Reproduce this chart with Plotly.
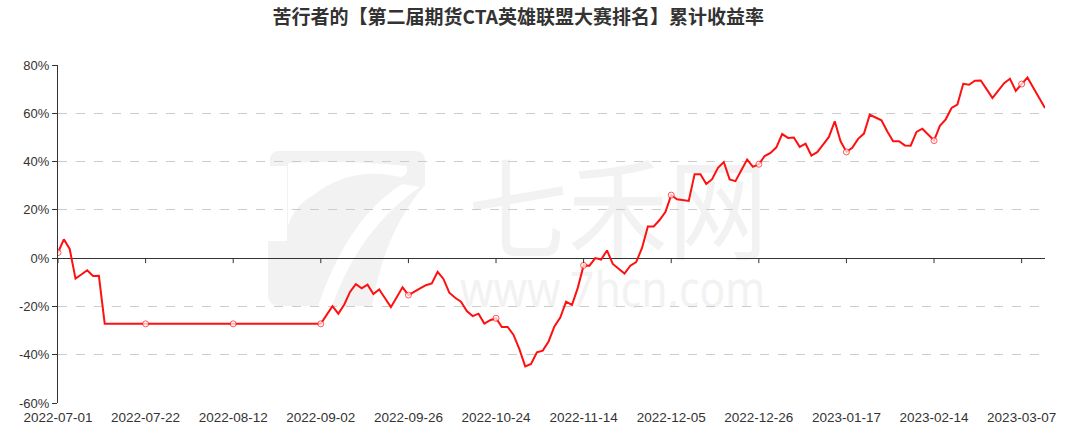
import base64
import pandas as pd
import plotly.graph_objects as go

# ---- data ----
holidays = ["2022-09-12", "2022-10-03", "2022-10-04", "2022-10-05", "2022-10-06", "2022-10-07",
            "2023-01-02", "2023-01-23", "2023-01-24", "2023-01-25", "2023-01-26", "2023-01-27"]
dates = [d.strftime("%Y-%m-%d") for d in pd.bdate_range("2022-07-01", "2023-03-13")
         if d.strftime("%Y-%m-%d") not in holidays]

returns = [
    2.3, 7.8, 3.8, -8.5, -6.8, -5.0, -7.4, -7.3, -27.2, -27.2,
    -27.2, -27.2, -27.2, -27.2, -27.2, -27.2, -27.2, -27.2, -27.2, -27.2,
    -27.2, -27.2, -27.2, -27.2, -27.2, -27.2, -27.2, -27.2, -27.2, -27.2,
    -27.2, -27.2, -27.2, -27.2, -27.2, -27.2, -27.2, -27.2, -27.2, -27.2,
    -27.2, -27.2, -27.2, -27.2, -27.2, -27.2, -23.5, -19.9, -23.0, -19.3,
    -14.0, -10.8, -12.5, -11.0, -14.9, -13.0, -16.6, -20.3, -16.2, -12.1,
    -15.3, -13.8, -12.5, -11.2, -10.5, -5.7, -8.6, -14.3, -16.4, -18.0,
    -21.9, -24.0, -23.0, -27.1, -25.7, -24.9, -28.5, -28.5, -31.8, -37.7,
    -44.8, -43.8, -39.0, -38.3, -34.5, -28.3, -24.6, -18.0, -19.4, -12.3,
    -3.0, -3.1, 0.0, -0.6, 3.2, -2.4, -4.3, -6.4, -3.1, -1.6,
    4.2, 13.1, 13.1, 15.8, 19.1, 26.1, 24.4, 24.1, 23.7, 34.8,
    34.8, 30.7, 32.7, 37.4, 39.8, 32.6, 31.9, 36.4, 40.8, 37.8,
    38.9, 42.3, 43.6, 45.9, 51.4, 49.8, 50.0, 46.1, 47.4, 42.5,
    43.9, 47.0, 50.2, 56.7, 48.4, 44.0, 45.7, 49.4, 51.6, 59.4,
    58.3, 57.1, 52.5, 48.4, 48.4, 46.7, 46.6, 52.3, 53.6, 51.2,
    48.7, 54.8, 57.5, 62.2, 63.6, 72.2, 71.8, 73.5, 73.6, 70.0,
    66.3, 69.4, 72.5, 74.3, 69.3, 72.1, 74.8, 70.6, 66.4, 62.2,
]

label_step = 15
x_ticks = dates[::label_step]
y_ticks = [-60, -40, -20, 0, 20, 40, 60, 80]
y_ticktext = [f"{v}%" for v in y_ticks]
title = "苦行者的【第二届期货CTA英雄联盟大赛排名】累计收益率"
watermark_cn = "七禾网"
watermark_url = "www.7hcn.com"

# ---- watermark (drawn behind grid and line, in plot-area pixel space 987x338) ----
PW, PH = 987, 338
OX, OY = 58, 65


def p(points):
    out = []
    for cmd, *xy in points:
        coords = " ".join(f"{xy[i] - OX:.1f},{xy[i + 1] - OY:.1f}" for i in range(0, len(xy), 2))
        out.append(f"{cmd}{coords}")
    return " ".join(out) + " Z"


logo_outer = p([("M", 278, 151), ("L", 415, 151), ("Q", 425, 151, 425, 161), ("L", 425, 185),
                ("Q", 385, 230, 372, 306), ("L", 280, 306), ("Q", 268, 306, 268, 294),
                ("L", 268, 241), ("L", 287, 241), ("L", 287, 166), ("L", 270, 166),
                ("L", 270, 161), ("Q", 270, 151, 278, 151)])
logo_w1 = p([("M", 288, 163), ("Q", 350, 160, 406, 166), ("Q", 410, 174, 401, 177),
             ("Q", 350, 165, 312, 196), ("Q", 294, 206, 288, 226)])
logo_w2 = p([("M", 402, 184), ("Q", 348, 218, 318, 306), ("L", 332, 306),
             ("Q", 360, 228, 420, 187)])

svg = f'''<svg xmlns="http://www.w3.org/2000/svg" width="{PW}" height="{PH}" viewBox="0 0 {PW} {PH}">
<path d="{logo_outer}" fill="#f2f2f2"/>
<path d="{logo_w1}" fill="#ffffff"/>
<path d="{logo_w2}" fill="#ffffff"/>
<text x="{468 - OX}" y="{251 - OY}" font-family="Noto Sans CJK SC" font-size="110" fill="#f2f2f2"
 textLength="300" lengthAdjust="spacingAndGlyphs">{watermark_cn}</text>
<text x="{460 - OX}" y="{307 - OY}" font-family="Noto Sans" font-size="50" fill="#f2f2f2"
 textLength="305" lengthAdjust="spacingAndGlyphs">{watermark_url}</text>
</svg>'''
svg_uri = "data:image/svg+xml;base64," + base64.b64encode(svg.encode("utf-8")).decode("ascii")

# ---- figure ----
marker_sizes = [6 if i % label_step == 0 else 0 for i in range(len(dates))]

fig = go.Figure()
fig.add_trace(go.Scatter(
    x=dates, y=returns, mode="lines+markers",
    line=dict(color="#ff1010", width=2),
    marker=dict(size=marker_sizes, color="white", line=dict(color="#ff1010", width=1)),
    hoverinfo="x+y", showlegend=False,
))

fig.add_layout_image(dict(source=svg_uri, xref="paper", yref="paper", x=0, y=1,
                          sizex=1, sizey=1, xanchor="left", yanchor="top",
                          sizing="stretch", layer="below"))

# small ticks hanging from the zero axis line
for t in x_ticks:
    fig.add_shape(type="line", xref="x", yref="y", x0=t, x1=t, y0=0, y1=-5,
                  ysizemode="pixel", yanchor=0, line=dict(color="#333", width=1))

fig.update_layout(
    width=1073, height=433,
    margin=dict(l=58, r=28, t=65, b=30, autoexpand=False),
    paper_bgcolor="white", plot_bgcolor="rgba(0,0,0,0)",
    title=dict(text=f"<b>{title}</b>", x=0.483, xanchor="center", y=0.96, yanchor="middle",
               font=dict(size=19, color="#333", family="Noto Sans CJK SC")),
    font=dict(family="Liberation Sans, Arial", color="#333"),
    xaxis=dict(type="category", range=[0, len(dates) - 1], tickvals=x_ticks, ticktext=x_ticks,
               showgrid=False, showline=False, ticks="", zeroline=False,
               automargin=False, ticklabelstandoff=4,
               tickfont=dict(size=13.5, color="#333"), fixedrange=True),
    yaxis=dict(range=[-60, 80], tickvals=y_ticks, ticktext=y_ticktext,
               showgrid=True, gridcolor="#cccccc", griddash="dash", gridwidth=1,
               zeroline=True, zerolinecolor="#333", zerolinewidth=1,
               showline=True, linecolor="#333", linewidth=1,
               ticks="outside", ticklen=5, tickcolor="#333", automargin=False,
               tickfont=dict(size=13, color="#333"), fixedrange=True),
)

fig.write_html("out.html", config={"displayModeBar": False},
               post_script="document.body.style.margin='0px';")
